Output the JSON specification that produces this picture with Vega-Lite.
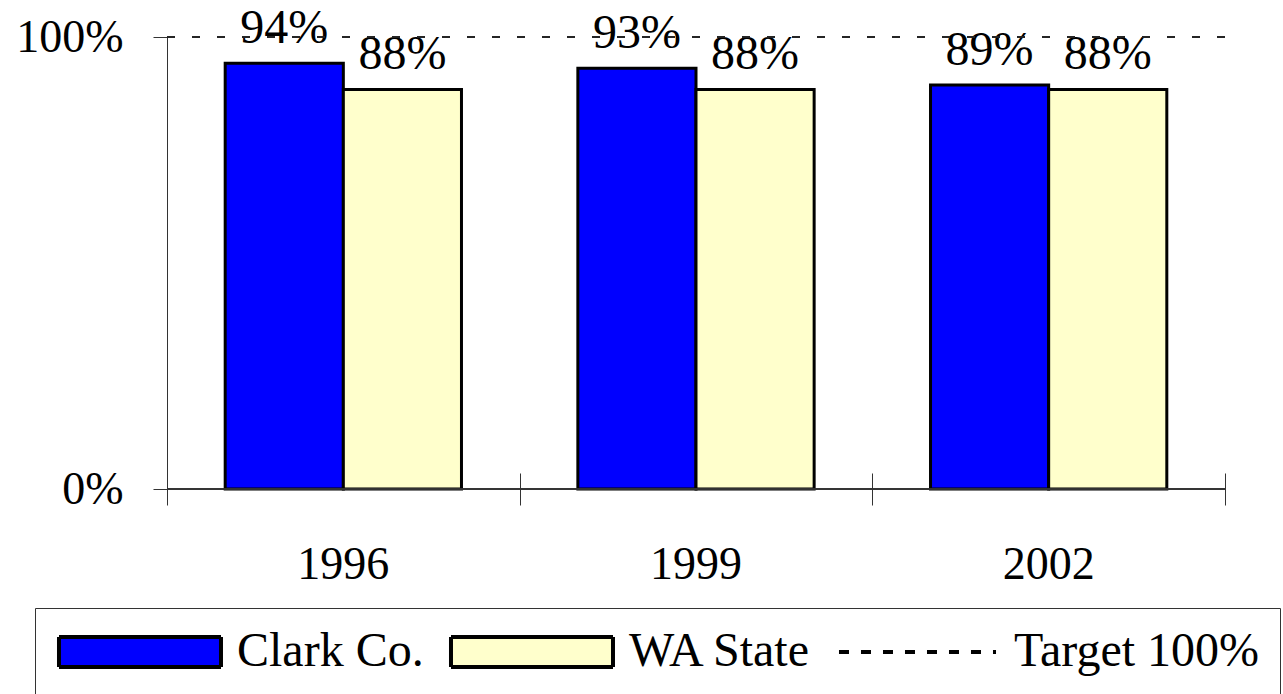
{
  "$schema": "https://vega.github.io/schema/vega-lite/v6.json",
  "autosize": "none",
  "width": 1058,
  "height": 452,
  "padding": {"left": 167, "top": 37, "right": 58, "bottom": 205},
  "background": "white",
  "config": {"font": "Liberation Serif", "view": {"stroke": null}},
  "data": {"values": [
    {"year": "1996", "series": "Clark Co.", "value": 0.942},
    {"year": "1996", "series": "WA State", "value": 0.884},
    {"year": "1999", "series": "Clark Co.", "value": 0.931},
    {"year": "1999", "series": "WA State", "value": 0.884},
    {"year": "2002", "series": "Clark Co.", "value": 0.894},
    {"year": "2002", "series": "WA State", "value": 0.884}
  ]},
  "layer": [
    {
      "layer": [
        {
          "mark": {"type": "bar", "stroke": "black", "strokeWidth": 3},
          "encoding": {
            "x": {"field": "year", "type": "nominal", "scale": {"paddingInner": 0.33, "paddingOuter": 0.165},
                  "axis": {"title": null, "ticks": false, "domain": false, "labelAngle": 0, "labelFontSize": 46, "labelPadding": 53, "labelColor": "black", "labelFont": "Liberation Serif"}},
            "xOffset": {"field": "series", "type": "nominal", "scale": {"domain": ["Clark Co.", "WA State"], "paddingInner": 0, "paddingOuter": 0}},
            "y": {"field": "value", "type": "quantitative", "scale": {"domain": [0, 1]},
                  "axis": {"title": null, "values": [0, 1], "format": ".0%", "grid": false, "labelFontSize": 46, "labelColor": "black", "tickSize": 14, "labelPadding": 30, "domainColor": "#333", "tickColor": "#333", "labelFont": "Liberation Serif"}},
            "fill": {"field": "series", "type": "nominal",
                     "scale": {"domain": ["Clark Co.", "WA State", "Target 100%"], "range": ["#0000FF", "#FFFFCC", "transparent"]},
                     "legend": {
                       "title": null, "orient": "none", "legendX": -132, "legendY": 571, "direction": "horizontal",
                       "columns": 3, "padding": 20, "strokeColor": "#333", "symbolSize": 3600, "symbolStrokeColor": "black",
                       "labelFontSize": 48, "labelFont": "Liberation Serif", "labelColor": "black", "labelOffset": 134, "columnPadding": 18,
                       "labelLimit": 500,
                       "encode": {"symbols": {"update": {
                         "shape": {"signal": "datum.value === 'Target 100%' ? 'M-0.567,0H4.667' : 'M-0.667,-0.5H4.733V0.5H-0.667Z'"},
                         "strokeDash": {"signal": "datum.value === 'Target 100%' ? [10,12] : [1,0]"},
                         "stroke": {"value": "black"},
                         "strokeWidth": {"signal": "datum.value === 'Target 100%' ? 4 : 4"}
                       }}}
                     }}
          }
        },
        {
          "mark": {"type": "text", "baseline": "alphabetic", "dy": -20, "fontSize": 48, "font": "Liberation Serif", "color": "black"},
          "encoding": {
            "x": {"field": "year", "type": "nominal"},
            "xOffset": {"field": "series", "type": "nominal"},
            "y": {"field": "value", "type": "quantitative"},
            "text": {"field": "value", "type": "quantitative", "format": ".0%"}
          }
        },
        {
          "mark": {"type": "rule", "strokeDash": [8, 17], "stroke": "#222", "strokeWidth": 1},
          "encoding": {"y": {"datum": 1}}
        }
      ]
    },
    {
      "mark": {"type": "rule", "stroke": "#333", "strokeWidth": 1},
      "encoding": {
        "x": {"datum": 0, "type": "quantitative", "scale": {"domain": [0, 3], "nice": false, "zero": false},
              "axis": {"orient": "top", "values": [0, 1, 2, 3], "labels": false, "domain": false, "grid": false, "title": null, "tickSize": 32, "offset": -468, "tickColor": "#333"}},
        "x2": {"datum": 3},
        "y": {"datum": 0}
      }
    }
  ],
  "resolve": {"scale": {"x": "independent"}, "axis": {"x": "independent"}}
}
